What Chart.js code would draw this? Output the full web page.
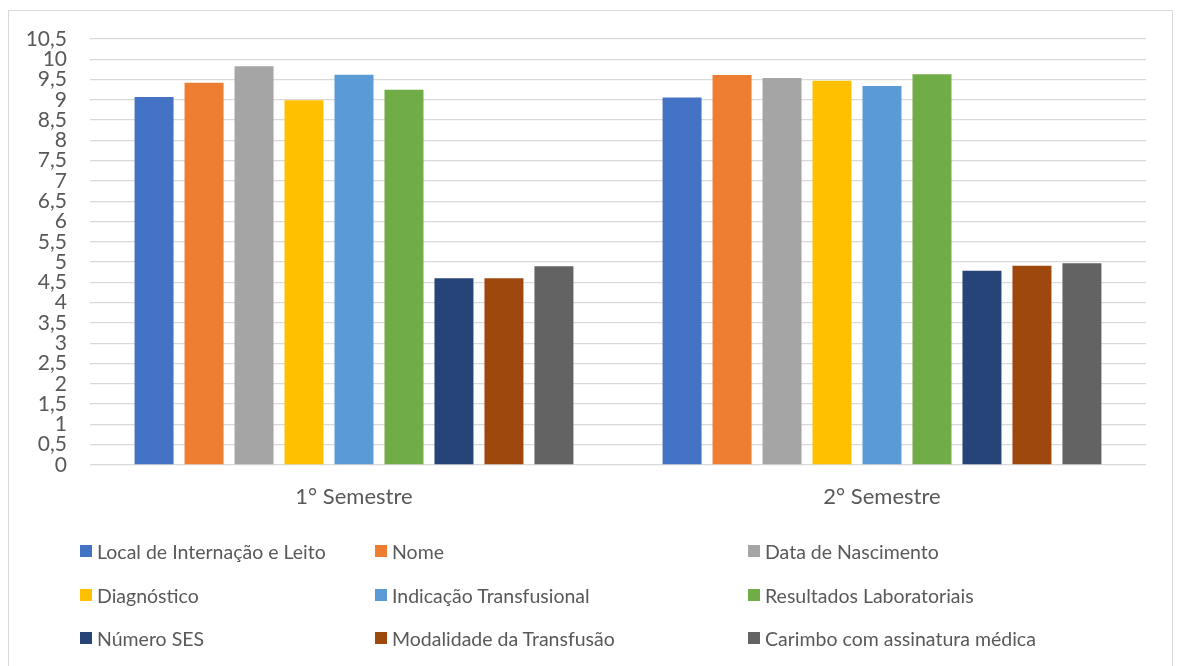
<!DOCTYPE html>
<html>
<head>
<meta charset="utf-8">
<script src="https://cdn.jsdelivr.net/npm/chart.js@4.4.1/dist/chart.umd.min.js"></script>
<style>
  html, body { margin: 0; padding: 0; background: #fff; }
  #wrap { position: relative; width: 1181px; height: 666px; overflow: hidden; background: #fff; }
  #frame { position: absolute; left: 8px; top: 10px; width: 1165px; height: 700px; border: 1px solid #d9d9d9; box-sizing: border-box; }
  #c { position: absolute; left: 0; top: 0; }
  #legend { position: absolute; left: 0; top: 0; width: 1181px; height: 666px; pointer-events: none;
            font-family: Lato, "Open Sans", sans-serif; font-size: 19.5px; color: #595959; }
  .item { position: absolute; display: flex; align-items: center; white-space: nowrap; }
  .box { width: 12px; height: 12px; margin-right: 5px; flex: none; }
</style>
</head>
<body>
<div id="wrap">
  <div id="frame"></div>
  <canvas id="c" width="1181" height="666"></canvas>
  <div id="legend"></div>
</div>
<script>
const categories = ['1° Semestre', '2° Semestre'];
const seriesNames = [
  'Local de Internação e Leito', 'Nome', 'Data de Nascimento',
  'Diagnóstico', 'Indicação Transfusional', 'Resultados Laboratoriais',
  'Número SES', 'Modalidade da Transfusão', 'Carimbo com assinatura médica'
];
const localInternacao = [9.07, 9.06];
const nome = [9.42, 9.61];
const dataNascimento = [9.83, 9.54];
const diagnostico = [8.99, 9.47];
const indicacao = [9.62, 9.34];
const resultados = [9.25, 9.63];
const numeroSES = [4.60, 4.79];
const modalidade = [4.60, 4.91];
const carimbo = [4.90, 4.97];
const seriesValues = [localInternacao, nome, dataNascimento, diagnostico, indicacao, resultados, numeroSES, modalidade, carimbo];
const colors = ['#4472C4', '#ED7D31', '#A5A5A5', '#FFC000', '#5B9BD5', '#70AD47', '#264478', '#9E480E', '#636363'];
const yMin = 0, yMax = 10.5, yStep = 0.5;

const FONT = 'Lato, "Open Sans", sans-serif';
const TEXT = '#595959';

const datasets = seriesNames.map((name, i) => ({
  label: name,
  data: seriesValues[i],
  backgroundColor: colors[i],
  borderWidth: 0,
  categoryPercentage: 0.852,
  barPercentage: 0.78
}));

new Chart(document.getElementById('c'), {
  type: 'bar',
  data: { labels: categories, datasets },
  options: {
    responsive: false,
    animation: false,
    devicePixelRatio: 1,
    layout: { padding: { left: 0, right: 35, top: 39, bottom: 141 } },
    plugins: { legend: { display: false }, tooltip: { enabled: false } },
    scales: {
      x: {
        grid: { display: false, drawTicks: false },
        border: { display: false },
        ticks: { color: TEXT, font: { family: FONT, size: 22 }, padding: 19 },
        afterFit: s => { s.height = 60; }
      },
      y: {
        min: yMin, max: yMax,
        grid: { color: '#d9d9d9', lineWidth: 1.3, drawTicks: false },
        border: { display: false },
        ticks: {
          stepSize: yStep, autoSkip: false, color: TEXT, font: { family: FONT, size: 21 }, padding: 23,
          callback: v => String(v).replace('.', ',')
        },
        afterFit: s => { s.width = 90; }
      }
    }
  }
});

// legend (3 columns)
const legend = document.getElementById('legend');
const colX = [80, 375, 748];
const rowY = [551, 595, 638];
seriesNames.forEach((name, i) => {
  const el = document.createElement('div');
  el.className = 'item';
  el.style.left = colX[i % 3] + 'px';
  el.style.top = (rowY[Math.floor(i / 3)] - 12) + 'px';
  el.style.height = '24px';
  const b = document.createElement('span');
  b.className = 'box';
  b.style.background = colors[i];
  const t = document.createElement('span');
  t.textContent = name;
  el.appendChild(b); el.appendChild(t);
  legend.appendChild(el);
});
</script>
</body>
</html>
